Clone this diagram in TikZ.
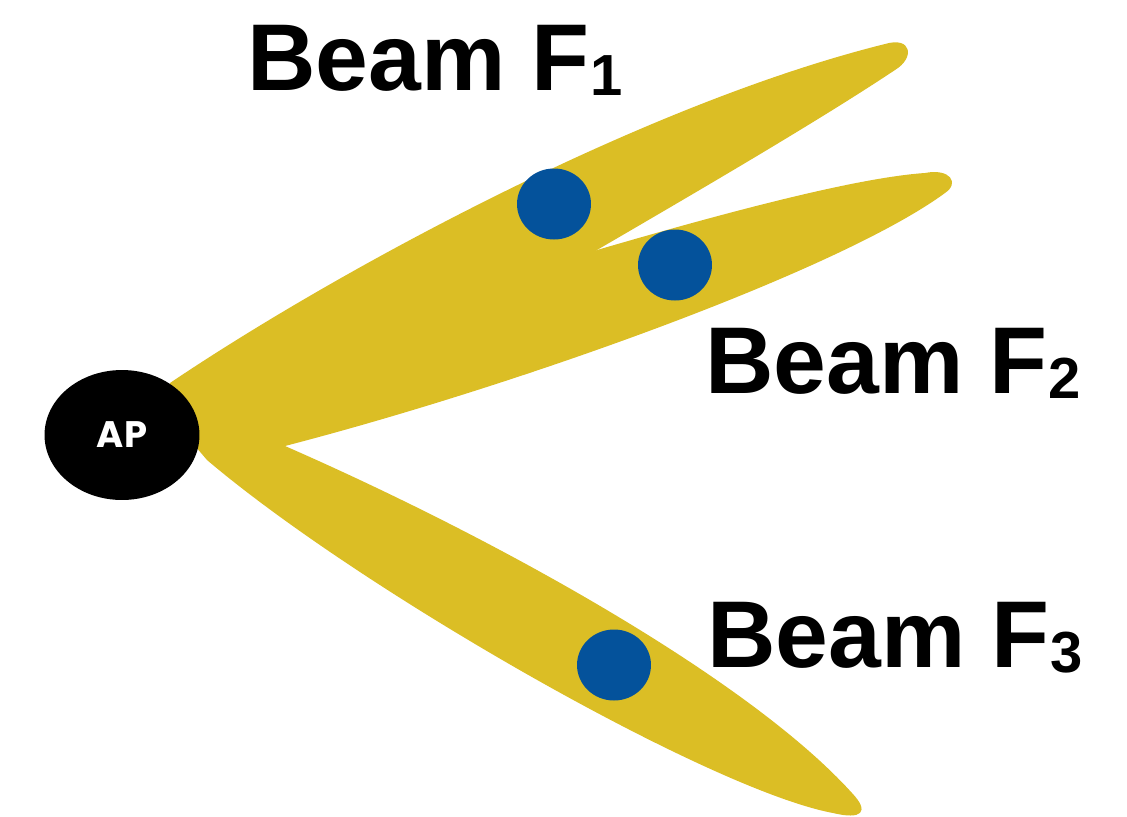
\documentclass[tikz,border=0pt]{standalone}
\usepackage{fontspec}
\setmainfont{Liberation Sans}
\newfontfamily\apfont{Poppins}
\usetikzlibrary{shapes.geometric}
\definecolor{beamGold}{HTML}{DBBE25}
\definecolor{userBlue}{HTML}{04529B}
\newcommand{\beamsub}[1]{\raisebox{-0.1cm}{\fontsize{33}{36}\selectfont #1}}

\begin{document}
\begin{tikzpicture}[x=0.02cm,y=-0.02cm,
    beamFill/.style={fill=beamGold},
    userDot/.style={ellipse,fill=userBlue,minimum width=1.48cm,minimum height=1.42cm,inner sep=0pt},
    beamLabel/.style={anchor=base west,inner sep=0pt,font=\bfseries\fontsize{54}{60}\selectfont},
]
\useasboundingbox (0,0) rectangle (1127,816);
% Beam F1
\fill[beamFill] (150,450) -- (170,383) .. controls (330,275) and (640,105) .. (885,44)
    .. controls (912,36) and (915,58) .. (895,70)
    .. controls (820,120) and (700,190) .. (597,250) -- (285,446) -- cycle;
% Beam F2
\fill[beamFill] (200,420) -- (597,250) .. controls (700,220) and (850,178) .. (925,173)
    .. controls (950,168) and (960,183) .. (945,193)
    .. controls (840,270) and (520,385) .. (285,446) -- (200,450) -- cycle;
% Beam F3
\fill[beamFill] (190,440) -- (285,446) .. controls (500,540) and (750,680) .. (852,793)
    .. controls (870,812) and (862,820) .. (833,813)
    .. controls (710,790) and (360,590) .. (207,460) -- cycle;
% Users
\node[userDot] (u1) at (554,204) {};
\node[userDot] (u2) at (675,265) {};
\node[userDot] (u3) at (614,665) {};
% Access point
\node[ellipse,fill=black,minimum width=3.1cm,minimum height=2.6cm,inner sep=0pt,
    text=white,font=\apfont\bfseries\fontsize{21}{24}\selectfont] (ap) at (122,435) {AP};
% Labels
\node[beamLabel] (l1) at (247,90) {Beam F\beamsub{1}};
\node[beamLabel] (l2) at (705,393) {Beam F\beamsub{2}};
\node[beamLabel] (l3) at (707,667) {Beam F\beamsub{3}};
\end{tikzpicture}
\end{document}
